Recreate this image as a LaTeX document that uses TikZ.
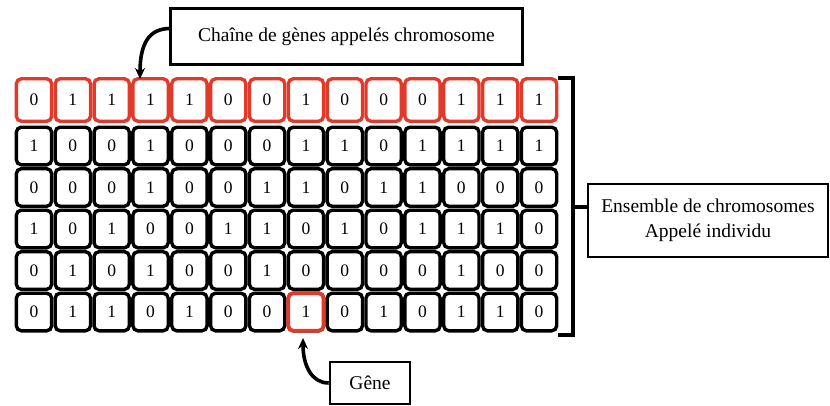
\documentclass[tikz,border=0pt]{standalone}
\usepackage{fontspec}
\setmainfont{Liberation Serif}
\usetikzlibrary{arrows.meta}
\definecolor{gred}{RGB}{226,58,42}
\begin{document}
\begin{tikzpicture}[x=1pt,y=-1pt,
  cell/.style={draw, rounded corners=5pt, line width=3.4pt, minimum width=35.3pt,
    minimum height=37.6pt, inner sep=0pt, fill=white, font=\fontsize{17.5}{20}\selectfont},
  label/.style={draw, line width=2.6pt, inner sep=0pt, fill=white, align=center,
    font=\fontsize{19.5}{25}\selectfont},
  pointer/.style={line width=3.6pt, -{Stealth[length=11pt,width=10pt]}},
  brace/.style={line width=3.6pt}]
\useasboundingbox (0,0) rectangle (830,405);

% the population: one chromosome per row, one gene per cell
\foreach \row [count=\r] in {
  {0,1,1,1,1,0,0,1,0,0,0,1,1,1},
  {1,0,0,1,0,0,0,1,1,0,1,1,1,1},
  {0,0,0,1,0,0,1,1,0,1,1,0,0,0},
  {1,0,1,0,0,1,1,0,1,0,1,1,1,0},
  {0,1,0,1,0,0,1,0,0,0,0,1,0,0},
  {0,1,1,0,1,0,0,1,0,1,0,1,1,0}} {
  \ifnum\r=1
    \def\cellcol{gred}\def\cellh{42.5pt}
  \else
    \def\cellcol{black}\def\cellh{37.6pt}
  \fi
  \pgfmathsetmacro\yy{ifthenelse(\r==1,100,146+41.5*(\r-2))}
  \foreach \v [count=\c] in \row {
    \node[cell, draw=\cellcol, minimum height=\cellh] (c-\r-\c)
      at ({34+38.85*(\c-1)}, \yy) {\v};
  }
}

% a single highlighted gene
\node[cell, draw=gred, line width=3.8pt] (gene) at (c-6-8) {1};

% chromosome label
\node[label, minimum width=352pt, minimum height=56pt] (chrom) at (346.5,36.5)
  {Chaîne de gènes appelés chromosome};
\coordinate (chromtip) at (140,79);
\draw[pointer] ([yshift=8pt]chrom.west) .. controls (150,29) and (140,42) .. (chromtip);

% individual: bracket around all rows
\node[label, minimum width=240pt, minimum height=73pt] (indiv) at (708,220.5)
  {Ensemble de chromosomes\\Appelé individu};
\coordinate (btop) at (573,78);
\coordinate (bbot) at (573,335);
\coordinate (bmid) at (573,207);
\draw[brace] ([xshift=-15pt]btop) -- (btop) -- (bbot) -- ([xshift=-15pt]bbot);
\draw[brace] (bmid) -- (bmid -| indiv.west);

% gene label
\node[label, minimum width=80pt, minimum height=42pt] (genelbl) at (370,383) {Gêne};
\coordinate (genetip) at (303,338);
\draw[pointer] (genelbl.west) .. controls (312,383) and (303,366) .. (genetip);
\end{tikzpicture}
\end{document}
